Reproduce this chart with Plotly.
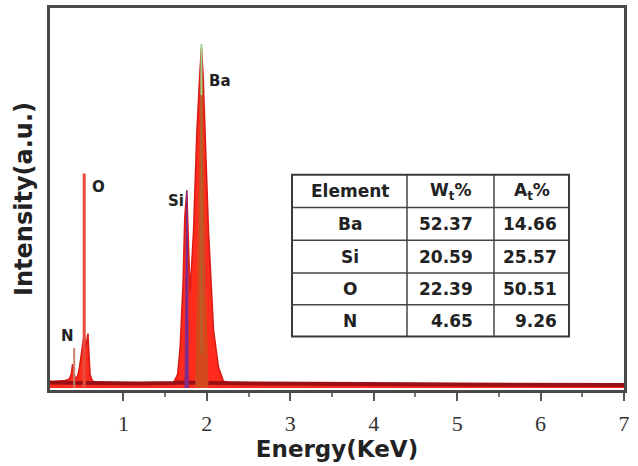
import plotly.graph_objects as go

# ---- spectrum envelope (energy in keV, intensity in a.u.) ----
energy = [0.12, 0.20, 0.30, 0.35, 0.375, 0.39, 0.40, 0.415, 0.43, 0.45, 0.47, 0.49,
          0.51, 0.53, 0.55, 0.565, 0.575, 0.585, 0.60, 0.63, 0.70, 0.90, 1.20,
          1.50, 1.60, 1.65, 1.68, 1.715, 1.735, 1.76, 1.78, 1.80, 1.84, 1.88,
          1.915, 1.935, 1.955, 1.98, 2.02, 2.08, 2.14, 2.20, 2.30, 2.60, 3.00,
          3.50, 4.00, 4.50, 5.00, 5.50, 6.00, 6.50, 7.00]
intensity = [1.6, 2.0, 2.2, 2.6, 4.0, 7.0, 6.0, 3.5, 2.8, 3.5, 5.5, 9.0,
             14.0, 16.0, 12.0, 15.0, 16.0, 11.0, 4.0, 2.0, 1.6, 1.4, 1.3,
             1.3, 1.5, 4.0, 12.0, 31.0, 50.0, 58.0, 42.0, 28.0, 46.0, 75.0,
             92.0, 100.0, 92.0, 75.0, 46.0, 17.0, 6.0, 2.0, 1.4, 1.3, 1.2,
             1.2, 1.1, 1.1, 1.0, 1.0, 1.0, 0.9, 0.9]

# ---- Ba core (orange) ----
ba_energy = [1.86, 1.885, 1.905, 1.925, 1.935, 1.945, 1.965, 1.99, 2.02]
ba_intensity = [0.0, 30.0, 62.0, 92.0, 100.0, 92.0, 62.0, 30.0, 0.0]

# ---- Si core (purple) ----
si_energy = [1.738, 1.748, 1.758, 1.768, 1.778]
si_intensity = [0.0, 42.0, 58.0, 42.0, 0.0]

# ---- labelled peaks ----
peak_names = ["N", "O", "Si", "Ba"]
peak_energy = [0.41, 0.53, 1.758, 1.935]
peak_height = [11.7, 63.0, 58.0, 100.0]
label_dx = [-7, 14, -11, 19]
label_dy = [12, -14, -10, -33]

# ---- composition table ----
table_header = ["Element", "W<sub>t</sub>%", "A<sub>t</sub>%"]
elements = ["Ba", "Si", "O", "N"]
wt_pct = ["52.37", "20.59", "22.39", "4.65"]
at_pct = ["14.66", "25.57", "50.51", "9.26"]

BOLD = "DejaVu Sans"

# plot-area geometry in pixels (for converting table layout to paper coords)
PL, PR, PT, PB = 50, 624, 5, 390
def px(x):
    return (x - PL) / (PR - PL)
def py(y):
    return (PB - y) / (PB - PT)

fig = go.Figure()

# main red spectrum
fig.add_trace(go.Scatter(x=energy, y=intensity, mode="lines", fill="tozeroy",
                         line=dict(color="#d81a14", width=1.5),
                         fillcolor="rgba(255,36,22,0.97)", hoverinfo="skip"))
# dark continuum band along the baseline
fig.add_trace(go.Scatter(x=energy, y=[min(v, 1.6) for v in intensity], mode="lines",
                         line=dict(color="#9a1016", width=4), hoverinfo="skip"))
# Ba orange core
fig.add_trace(go.Scatter(x=ba_energy, y=ba_intensity, mode="lines", fill="toself",
                         line=dict(color="rgba(0,0,0,0)", width=0),
                         fillcolor="#d54a1c", hoverinfo="skip"))
# Si purple core
fig.add_trace(go.Scatter(x=si_energy, y=si_intensity, mode="lines", fill="toself",
                         line=dict(color="#7b2b8c", width=1),
                         fillcolor="#85298a", hoverinfo="skip"))
# O spike and N spike
fig.add_trace(go.Scatter(x=[peak_energy[1], peak_energy[1]], y=[0, peak_height[1]],
                         mode="lines", line=dict(color="#e84a3c", width=3),
                         hoverinfo="skip"))
fig.add_trace(go.Scatter(x=[peak_energy[0], peak_energy[0]], y=[0, peak_height[0]],
                         mode="lines", line=dict(color="#c8806a", width=2),
                         hoverinfo="skip"))
# Ba centre line with greenish tip
fig.add_trace(go.Scatter(x=[peak_energy[3], peak_energy[3]], y=[10, 88],
                         mode="lines", line=dict(color="#a86a35", width=1.5),
                         hoverinfo="skip"))
fig.add_trace(go.Scatter(x=[peak_energy[3], peak_energy[3]], y=[86, peak_height[3] + 1],
                         mode="lines", line=dict(color="#9fd08a", width=2),
                         hoverinfo="skip"))

for n, e, h, dx, dy in zip(peak_names, peak_energy, peak_height, label_dx, label_dy):
    fig.add_annotation(x=e, y=h, text=f"<b>{n}</b>", showarrow=False,
                       xshift=dx, yshift=dy,
                       font=dict(family=BOLD, size=15, color="#222"))

# ---- table drawn with shapes + annotations ----
col_edges = [292, 407, 494, 569]
row_edges = [173, 206, 239, 272, 304, 336]
tfont = dict(family=BOLD, size=17, color="#222")

fig.add_shape(type="rect", xref="paper", yref="paper",
              x0=px(col_edges[0]), x1=px(col_edges[-1]),
              y0=py(row_edges[-1]), y1=py(row_edges[0]),
              line=dict(color="#3a3a3a", width=2), fillcolor="white", layer="above")
for ce in col_edges[1:-1]:
    fig.add_shape(type="line", xref="paper", yref="paper",
                  x0=px(ce), x1=px(ce), y0=py(row_edges[-1]), y1=py(row_edges[0]),
                  line=dict(color="#444", width=1.5), layer="above")
for re_ in row_edges[1:-1]:
    fig.add_shape(type="line", xref="paper", yref="paper",
                  x0=px(col_edges[0]), x1=px(col_edges[-1]), y0=py(re_), y1=py(re_),
                  line=dict(color="#444", width=1.5), layer="above")

def cell_text(text, col, row, align="center"):
    yc = (row_edges[row] + row_edges[row + 1]) / 2
    if align == "center":
        xc, anchor = (col_edges[col] + col_edges[col + 1]) / 2, "center"
    else:
        pad = 19 if col == 1 else 10
        xc, anchor = col_edges[col + 1] - pad, "right"
    fig.add_annotation(xref="paper", yref="paper", x=px(xc), y=py(yc),
                       text=f"<b>{text}</b>", showarrow=False,
                       xanchor=anchor, yanchor="middle", font=tfont)

for c, h in enumerate(table_header):
    cell_text(h, c, 0)
for r in range(len(elements)):
    cell_text(elements[r], 0, r + 1)
    cell_text(wt_pct[r], 1, r + 1, align="right")
    cell_text(at_pct[r], 2, r + 1, align="right")

fig.update_layout(
    width=638, height=466,
    margin=dict(l=PL, r=638 - PR, t=PT, b=466 - PB),
    paper_bgcolor="white", plot_bgcolor="white",
    showlegend=False,
    xaxis=dict(range=[0.12, 7.0], tickvals=[1, 2, 3, 4, 5, 6, 7],
               ticks="outside", ticklen=8, tickwidth=2, tickcolor="#555",
               ticklabelstandoff=4,
               minor=dict(tickvals=[1.5, 2.5, 3.5, 4.5, 5.5, 6.5], ticks="outside",
                          ticklen=4, tickwidth=2, tickcolor="#777"),
               showgrid=False, zeroline=False,
               showline=True, linecolor="#4a4a4a", linewidth=3, mirror=True,
               tickfont=dict(family="Liberation Serif, Times New Roman", size=22, color="#333"),
               title=dict(text="<b>Energy(KeV)</b>", standoff=2,
                          font=dict(family=BOLD, size=23, color="#222"))),
    yaxis=dict(range=[-0.58, 111.6], showticklabels=False, ticks="",
               showgrid=False, zeroline=False,
               showline=True, linecolor="#4a4a4a", linewidth=3, mirror=True,
               title=dict(text="<b>Intensity(a.u.)</b>", standoff=8,
                          font=dict(family=BOLD, size=24, color="#222"))),
)

fig.write_html("out.html")
